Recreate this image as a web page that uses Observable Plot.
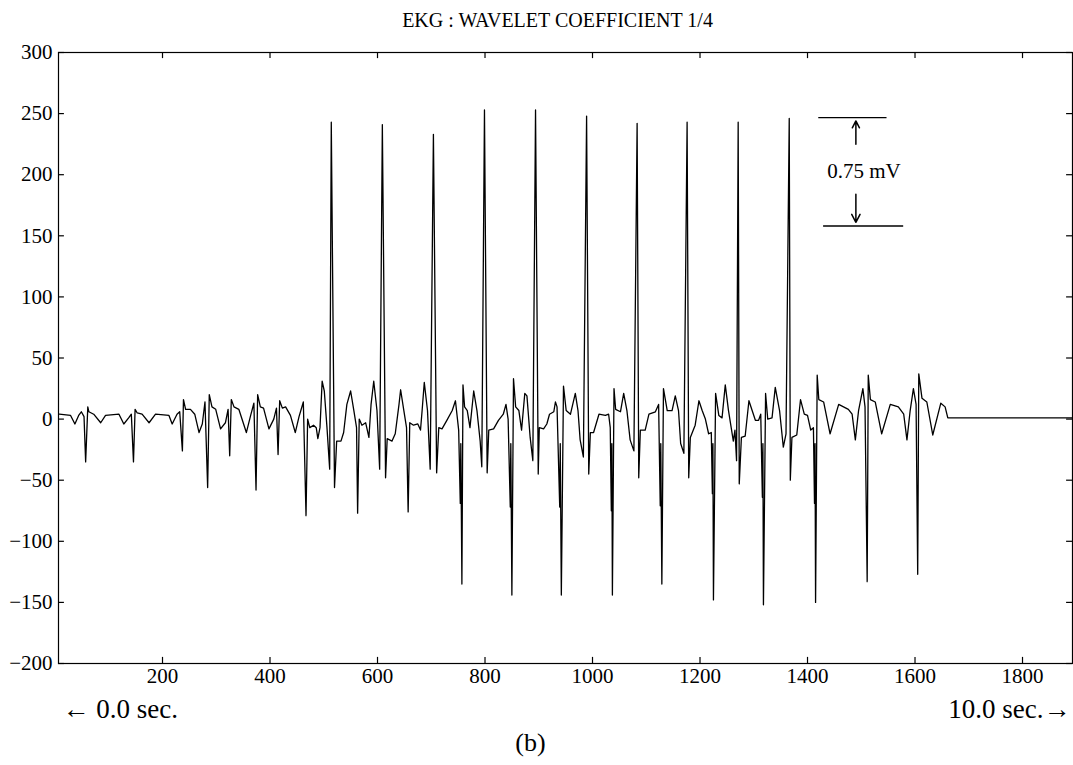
<!DOCTYPE html>
<html><head><meta charset="utf-8">
<script src="https://cdn.jsdelivr.net/npm/d3@7"></script>
<script src="https://cdn.jsdelivr.net/npm/@observablehq/plot@0.6"></script>
<style>html,body{margin:0;padding:0;background:#fff} svg{display:block}</style>
</head><body><div id="chart"></div>
<script>
// EKG wavelet coefficient signal (sample index, coefficient value)
const sampleIndex = [8,29,37,44,49,54,57,61,63,72,85,94,119,128,137,142,146,149,153,162,175,187,212,218,227,232,237,239,243,252,260,268,274,279,284,287,292,299,308,317,322,325,328,333,342,356,364,370,374,377,382,388,398,407,412,415,418,423,429,
438,447,454,462,467,470,474,481,486,489,493,497,501,506,511,514,520,524,532,537,543,550,556,561,563,566,571,578,584,588,593,599,604,609,615,618,627,633,640,643,649,654,657,660,667,675,680,683,687,693,698,704,710,714,720,729,739,745,751,754,755,757,759,762,767,772,779,785,791,794,799,804,807,816,825,834,839,843,847,848,850,853,857,863,868,874,878,884,889,894,899,901,909,915,920,928,931,934,939,940,942,946,951,959,968,973,977,983,989,993,996,1002,1012,1024,1030,1033,1035,1036,1037,1040,1043,1052,1058,1064,1070,1077,1083,1086,1089,1098,1105,1117,1123,1126,1127,1129,1132,1139,1148,1154,1160,1164,1170,1176,1179,1182,1191,1198,1204,1210,1216,1221,1223,1224,1225,1229,1235,1241,1247,1253,1262,1265,1268,1271,1273,1277,1284,1291,1297,1303,1309,1313,1316,1317,1318,1322,1326,1334,1340,1348,1355,1360,1366,1368,1371,1380,1387,1394,1400,1406,1411,1413,1414,1415,1418,1421,1430,1442,1458,1476,1483,1489,1495,1503,1507,1511,1513,1517,1526,1538,1554,1569,1579,1585,1591,1597,1602,1605,1607,1613,1622,1633,1648,1656,1661,1893];
const coefficient = [4,3,-4,3,6,2,-35,10,6,4,-3,3,4,-4,1,4,-35,8,5,4,-3,4,3,-4,4,6,-26,16,8,8,4,-11,-4,14,-56,20,10,8,-8,-3,8,-30,16,10,8,-11,3,13,-58,20,10,9,-8,0,9,-29,15,9,10,
3,-11,2,14,-79,0,-7,-5,-7,-16,-7,31,23,-7,-41,243,-56,-18,-18,-11,12,23,7,-7,-77,0,-5,-3,-15,12,31,7,-41,241,-48,-16,-18,-12,12,24,7,-7,-76,-3,-5,-4,-9,7,30,7,-41,233,-44,-7,-8,-1,7,15,-9,-69,-20,-135,28,10,7,-7,23,7,-18,-39,253,-44,-9,-8,-1,4,12,0,-72,-20,-144,33,10,7,-9,21,19,-15,-34,253,-45,-7,-8,-4,4,6,14,10,-72,-20,-144,27,7,4,21,7,-17,-31,248,-45,-11,-11,4,3,4,-7,-75,-20,-144,25,8,6,21,7,-17,-26,242,-48,-9,-9,4,6,12,-71,-20,-135,25,7,7,19,7,-20,-28,243,-48,-15,-5,15,7,0,-12,-11,-61,-20,-148,21,3,1,28,7,-18,-9,-34,243,-53,-15,-14,15,7,-1,-1,4,-64,-20,-152,21,0,1,26,7,-23,-12,246,-50,-15,-13,16,4,3,-9,-7,-69,-20,-150,36,16,14,-12,12,8,4,-17,7,25,10,-133,36,16,14,-12,12,10,4,-17,7,25,12,-127,37,17,14,-13,13,10,1,1];

const xTicks = [200, 400, 600, 800, 1000, 1200, 1400, 1600, 1800];
const yTicks = [-200, -150, -100, -50, 0, 50, 100, 150, 200, 250, 300];
const titleText = "EKG : WAVELET COEFFICIENT 1/4";
const startLabel = "\u2190 0.0 sec.";
const endLabel = "10.0 sec.\u2192";
const panelLabel = "(b)";

// 0.75 mV scale-bar annotation
const scaleBarX1 = [1420, 1429];
const scaleBarX2 = [1547, 1578];
const scaleBarY = [246.7, 158];
const arrowFromY = [225, 184];
const arrowToY = [244, 161];
const arrowX = 1490;
const scaleText = "0.75 mV";
const scaleTextPos = {x: 1505, y: 203};

const xDomain = [6.5, 1893];
const yDomain = [-200, 300];

const data = sampleIndex.map((x, i) => ({x, y: coefficient[i]}));
const bars = scaleBarY.map((y, i) => ({x1: scaleBarX1[i], x2: scaleBarX2[i], y}));
const arrows = arrowFromY.map((y1, i) => ({x: arrowX, y1, y2: arrowToY[i]}));

const serif = "'Liberation Serif', 'Times New Roman', Times, serif";

// inward tick marks (about 6 px long)
const tickLenX = 11; // in x units
const tickLenY = 5;  // in y units

const chart = Plot.plot({
  width: 1073,
  height: 765,
  marginLeft: 58,
  marginRight: 1,
  marginTop: 52,
  marginBottom: 102,
  style: {fontFamily: serif, fontSize: "22px", background: "white", color: "black", overflow: "visible"},
  x: {domain: xDomain},
  y: {domain: yDomain},
  marks: [
    Plot.frame({stroke: "black", strokeWidth: 1.2}),
    Plot.axisX({anchor: "bottom", ticks: xTicks, tickSize: 0, tickPadding: 5, label: null, fontSize: 21, tickFormat: d3.format("d")}),
    Plot.axisY({anchor: "left", ticks: yTicks, tickSize: 0, tickPadding: 6, label: null, fontSize: 21, tickFormat: d3.format("d")}),
    Plot.ruleX(xTicks, {y1: yDomain[0], y2: yDomain[0] + tickLenY, stroke: "black", strokeWidth: 1.2}),
    Plot.ruleX(xTicks, {y1: yDomain[1], y2: yDomain[1] - tickLenY, stroke: "black", strokeWidth: 1.2}),
    Plot.ruleY(yTicks, {x1: xDomain[0], x2: xDomain[0] + tickLenX, stroke: "black", strokeWidth: 1.2}),
    Plot.ruleY(yTicks, {x1: xDomain[1], x2: xDomain[1] - tickLenX, stroke: "black", strokeWidth: 1.2}),
    Plot.line(data, {x: "x", y: "y", stroke: "black", strokeWidth: 1.3}),
    Plot.link(bars, {x1: "x1", x2: "x2", y1: "y", y2: "y", stroke: "black", strokeWidth: 1.4}),
    Plot.arrow(arrows, {x1: "x", x2: "x", y1: "y1", y2: "y2", stroke: "black", strokeWidth: 1.5, headLength: 9, headAngle: 55}),
    Plot.text([scaleText], {x: scaleTextPos.x, y: scaleTextPos.y, text: d => d, fontSize: 21, fill: "black"}),
    Plot.text([titleText], {frameAnchor: "top", text: d => d, dx: -8, dy: -40, fontSize: 20, fill: "black", style: "word-spacing:4px"}),
    Plot.text([startLabel], {frameAnchor: "bottom-left", text: d => d, textAnchor: "start", dx: 4, dy: 54, fontSize: 27, fill: "black"}),
    Plot.text([endLabel], {frameAnchor: "bottom-right", text: d => d, textAnchor: "end", dx: -2, dy: 54, fontSize: 27, fill: "black"}),
    Plot.text([panelLabel], {frameAnchor: "bottom", text: d => d, dx: -35, dy: 87, fontSize: 26, fill: "black"})
  ]
});
document.getElementById("chart").appendChild(chart);
</script>
</body></html>
